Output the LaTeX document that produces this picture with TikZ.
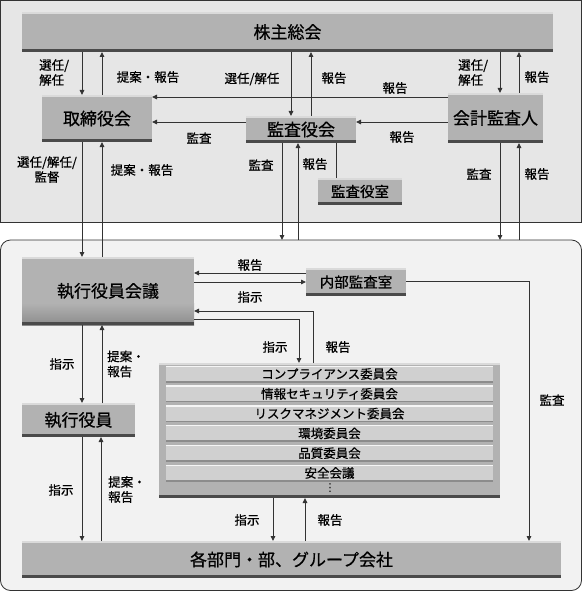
\documentclass[tikz,border=0pt]{standalone}
\usepackage{fontspec}
\setmainfont{Noto Sans CJK JP}[FakeBold=0.6]
\newfontfamily\dvsans{DejaVu Sans}
\usetikzlibrary{arrows.meta}
\definecolor{panelA}{HTML}{E6E6E6}
\definecolor{panelB}{HTML}{F2F2F2}
\definecolor{boxfill}{HTML}{B2B2B2}
\definecolor{boxhi}{HTML}{DADADA}
\definecolor{boxlo}{HTML}{4A4A4A}
\definecolor{rowfill}{HTML}{D0D0D0}
\definecolor{rowlo}{HTML}{8C8C8C}
\definecolor{linec}{HTML}{333333}
\begin{document}
\begin{tikzpicture}[x=1pt,y=-1pt,
  arr/.style={draw=linec, line width=0.9pt, -{Triangle[length=5pt,width=4.5pt]}},
  ln/.style={draw=linec, line width=0.9pt},
  box/.style={fill=boxfill, inner sep=0pt, outer sep=0pt, text=black,
    path picture={
      \fill[boxhi] (path picture bounding box.north west) rectangle ([yshift=-2pt]path picture bounding box.north east);
      \fill[boxlo] (path picture bounding box.south west) rectangle ([yshift=3pt]path picture bounding box.south east);
    }},
  gbox/.style={inner sep=0pt, outer sep=0pt, text=black,
    path picture={
      \fill[boxfill] (path picture bounding box.north west) rectangle (path picture bounding box.south east);
      \shade[top color=boxfill, bottom color=black!45] ([yshift=22pt]path picture bounding box.south west) rectangle (path picture bounding box.south east);
      \fill[boxhi] (path picture bounding box.north west) rectangle ([yshift=-2pt]path picture bounding box.north east);
      \fill[boxlo] (path picture bounding box.south west) rectangle ([yshift=3pt]path picture bounding box.south east);
    }},
  row/.style={fill=rowfill, inner sep=0pt, outer sep=0pt, minimum width=327pt, minimum height=17pt,
    font=\fontsize{12.5}{14}\selectfont,
    path picture={
      \fill[white!92!gray] (path picture bounding box.north west) rectangle ([yshift=-1.5pt]path picture bounding box.north east);
      \fill[rowlo] (path picture bounding box.south west) rectangle ([yshift=1.5pt]path picture bounding box.south east);
    }},
  big/.style={font=\fontsize{17}{20}\selectfont},
  mid/.style={font=\fontsize{14.5}{17}\selectfont},
  lab/.style={font=\fontsize{12.5}{15}\selectfont, inner sep=0pt, align=center},
  labl/.style={font=\fontsize{12.5}{15}\selectfont, inner sep=0pt, align=left, anchor=west},
]
\useasboundingbox (0,0) rectangle (582,591);
% panels
\draw[draw=linec, fill=panelA, line width=0.8pt] (0.5,0.5) rectangle (581.5,222);
\draw[draw=linec, fill=panelB, line width=0.8pt, rounded corners=10pt] (0.5,240) rectangle (581.5,590.5);

% boxes
\node[box, big, minimum width=531pt, minimum height=40pt] (kabu) at (287.5,32) {株主総会};
\node[box, big, minimum width=110pt, minimum height=47pt] (tori) at (97,118.5) {取締役会};
\node[box, big, minimum width=110pt, minimum height=27pt] (kansa) at (301,129.5) {監査役会};
\node[box, big, minimum width=95pt, minimum height=50pt] (kaikei) at (495.5,118) {会計監査人};
\node[box, mid, minimum width=84pt, minimum height=27pt] (kansashitsu) at (360,191.5) {監査役室};
\node[gbox, big, minimum width=172pt, minimum height=68pt] (shikko) at (108,291) {執行役員会議};
\node[box, mid, minimum width=100pt, minimum height=28pt] (naibu) at (356,282) {内部監査室};
\node[box, big, minimum width=113pt, minimum height=34pt] (yakuin) at (78.5,420) {執行役員};
\node[box, minimum width=341pt, minimum height=135pt] (comm) at (329.5,430.5) {};
\node[row] (r1) at (329.5,374) {コンプライアンス委員会};
\node[row] (r2) at (329.5,393.8) {情報セキュリティ委員会};
\node[row] (r3) at (329.5,413.6) {リスクマネジメント委員会};
\node[row] (r4) at (329.5,433.4) {環境委員会};
\node[row] (r5) at (329.5,453.2) {品質委員会};
\node[row] (r6) at (329.5,473) {安全会議};
\node[inner sep=0pt, font=\dvsans\fontsize{11}{11}\selectfont] (dots) at (330,488) {⋮};
\node[box, big, minimum width=539pt, minimum height=37pt] (kakubu) at (291.5,559.5) {各部門・部、グループ会社};

% panel border points
\coordinate (pA) at (282,240);
\coordinate (pB) at (298,240);
\coordinate (pC) at (500,240);
\coordinate (pD) at (519,240);

% top connectors
\draw[arr] (82,0 |- kabu.south) -- (82,0 |- tori.north);
\draw[arr] (102,0 |- tori.north) -- (102,0 |- kabu.south);
\draw[arr] (291,0 |- kabu.south) -- (291,0 |- kansa.north);
\draw[arr] (311,0 |- kansa.north) -- (311,0 |- kabu.south);
\draw[arr] (500,0 |- kabu.south) -- (500,0 |- kaikei.north);
\draw[arr] (519,0 |- kaikei.north) -- (519,0 |- kabu.south);
\draw[arr] (kaikei.west |- 0,97) -- (tori.east |- 0,97);
\draw[arr] (kansa.west |- 0,122) -- (tori.east |- 0,122);
\draw[arr] (kaikei.west |- 0,122) -- (kansa.east |- 0,122);
\draw[ln] (336,0 |- kansa.south) -- (336,0 |- kansashitsu.north);

% top to bottom
\draw[arr] (82,0 |- tori.south) -- (82,0 |- shikko.north);
\draw[arr] (102,0 |- shikko.north) -- (102,0 |- tori.south);
\draw[arr] (282,0 |- kansa.south) -- (pA);
\draw[arr] (pB) -- (298,0 |- kansa.south);
\draw[arr] (500,0 |- kaikei.south) -- (pC);
\draw[arr] (pD) -- (519,0 |- kaikei.south);

% lower connectors
\draw[arr] (naibu.west |- 0,273) -- (shikko.east |- 0,273);
\draw[arr] (shikko.east |- 0,282) -- (naibu.west |- 0,282);
\draw[arr] (313,0 |- comm.north) |- (shikko.east |- 0,311);
\draw[arr] (shikko.east |- 0,319) -| (299,0 |- comm.north);
\draw[arr] (naibu.east |- 0,281) -| (529,0 |- kakubu.north);
\draw[arr] (82,0 |- shikko.south) -- (82,0 |- yakuin.north);
\draw[arr] (102,0 |- yakuin.north) -- (102,0 |- shikko.south);
\draw[arr] (82,0 |- yakuin.south) -- (82,0 |- kakubu.north);
\draw[arr] (101,0 |- kakubu.north) -- (101,0 |- yakuin.south);
\draw[arr] (273,0 |- comm.south) -- (273,0 |- kakubu.north);
\draw[arr] (305,0 |- kakubu.north) -- (305,0 |- comm.south);

% labels
\node[labl] (l1) at (39,72.5) {選任/\\解任};
\node[lab] (l2) at (148,77) {提案・報告};
\node[lab] (l3) at (252,79) {選任/解任};
\node[lab] (l4) at (334,78) {報告};
\node[lab] (l5) at (395,88) {報告};
\node[labl] (l6) at (458,72.5) {選任/\\解任};
\node[lab] (l7) at (537,77) {報告};
\node[lab] (l8) at (199,138) {監査};
\node[lab] (l9) at (402,137) {報告};
\node[lab] (l10) at (47,169.5) {選任/解任/\\監督};
\node[lab] (l11) at (142,170) {提案・報告};
\node[lab] (l12) at (261,165) {監査};
\node[lab] (l13) at (315,164) {報告};
\node[lab] (l14) at (479,174) {監査};
\node[lab] (l15) at (537,174) {報告};
\node[lab] (l16) at (250,265) {報告};
\node[lab] (l17) at (250,297) {指示};
\node[lab] (l18) at (275,347) {指示};
\node[lab] (l19) at (338,347) {報告};
\node[lab] (l20) at (62,364) {指示};
\node[labl] (l21) at (107,364) {提案・\\報告};
\node[lab] (l22) at (552,400) {監査};
\node[lab] (l23) at (61,490) {指示};
\node[labl] (l24) at (108,489.5) {提案・\\報告};
\node[lab] (l25) at (247,520) {指示};
\node[lab] (l26) at (330,520) {報告};
\end{tikzpicture}
\end{document}
